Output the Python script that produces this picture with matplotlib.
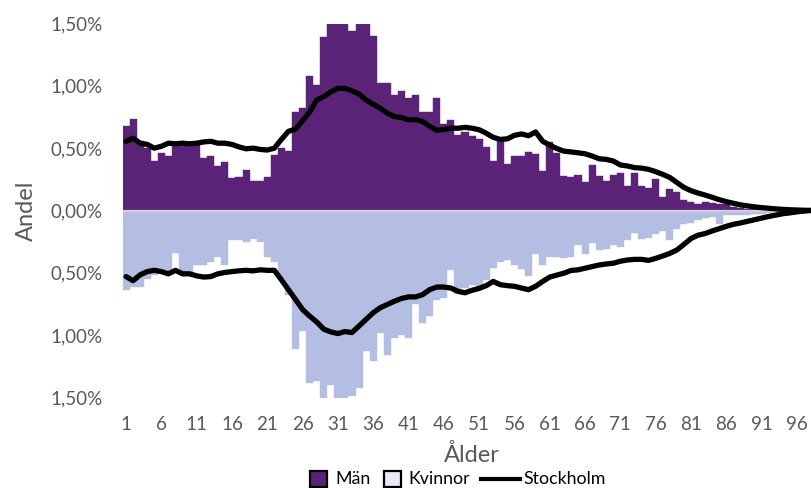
import matplotlib
matplotlib.use("Agg")
import matplotlib.pyplot as plt
from matplotlib.patches import Rectangle
from matplotlib.lines import Line2D
from matplotlib.ticker import FuncFormatter

plt.rcParams['font.family'] = ['Lato', 'DejaVu Sans']

ages = list(range(1, 101))

man = [0.675, 0.736, 0.56, 0.50, 0.40, 0.46, 0.44, 0.53, 0.52, 0.52,
       0.53, 0.42, 0.44, 0.36, 0.39, 0.26, 0.265, 0.325, 0.24, 0.24,
       0.27, 0.445, 0.50, 0.48, 0.79, 0.82, 1.08, 1.005, 1.39, 1.52,
       1.51, 1.52, 1.44, 1.52, 1.52, 1.40, 1.02, 1.02, 0.926, 0.957,
       0.905, 0.926, 0.794, 0.79, 0.905, 0.693, 0.727, 0.608, 0.627, 0.595,
       0.577, 0.508, 0.40, 0.555, 0.376, 0.434, 0.434, 0.468, 0.455, 0.317,
       0.548, 0.463, 0.278, 0.265, 0.283, 0.225, 0.365, 0.278, 0.233, 0.283,
       0.299, 0.193, 0.299, 0.193, 0.18, 0.251, 0.106, 0.17, 0.145, 0.085,
       0.066, 0.053, 0.066, 0.058, 0.053, 0.053, 0.03, 0.02, 0.015, 0.01,
       0.008, 0.006, 0.005, 0.004, 0.003, 0.002, 0.002, 0.001, 0.001, 0.001]

kvinnor = [0.64, 0.61, 0.61, 0.55, 0.52, 0.50, 0.52, 0.344, 0.52, 0.52,
           0.44, 0.44, 0.41, 0.375, 0.44, 0.238, 0.238, 0.25, 0.225, 0.25,
           0.37, 0.41, 0.55, 0.68, 1.11, 0.966, 1.38, 1.37, 1.52, 1.40,
           1.52, 1.52, 1.49, 1.42, 1.125, 1.21, 0.984, 1.16, 1.02, 1.00,
           1.02, 0.746, 0.90, 0.85, 0.714, 0.70, 0.48, 0.67, 0.62, 0.595,
           0.61, 0.556, 0.458, 0.41, 0.40, 0.437, 0.47, 0.524, 0.349, 0.44,
           0.37, 0.375, 0.38, 0.37, 0.278, 0.35, 0.26, 0.317, 0.31, 0.278,
           0.29, 0.238, 0.18, 0.225, 0.22, 0.185, 0.166, 0.24, 0.146, 0.11,
           0.10, 0.08, 0.063, 0.05, 0.11, 0.04, 0.04, 0.04, 0.035, 0.03,
           0.025, 0.02, 0.015, 0.01, 0.008, 0.006, 0.004, 0.003, 0.002, 0.001]

sthlm_man = [0.555, 0.58, 0.54, 0.53, 0.50, 0.515, 0.54, 0.535, 0.54, 0.535,
             0.54, 0.55, 0.555, 0.54, 0.54, 0.53, 0.51, 0.495, 0.50, 0.49,
             0.485, 0.50, 0.57, 0.635, 0.653, 0.72, 0.79, 0.886, 0.913, 0.952,
             0.98, 0.98, 0.96, 0.934, 0.886, 0.852, 0.82, 0.78, 0.754, 0.746,
             0.727, 0.73, 0.714, 0.675, 0.643, 0.65, 0.66, 0.66, 0.667, 0.66,
             0.648, 0.62, 0.587, 0.57, 0.575, 0.603, 0.614, 0.60, 0.63, 0.555,
             0.524, 0.497, 0.476, 0.47, 0.463, 0.455, 0.437, 0.415, 0.41, 0.397,
             0.365, 0.357, 0.344, 0.34, 0.33, 0.312, 0.29, 0.265, 0.225, 0.185,
             0.159, 0.14, 0.124, 0.106, 0.087, 0.071, 0.058, 0.045, 0.037, 0.029,
             0.023, 0.018, 0.013, 0.009, 0.006, 0.004, 0.002, 0.001, 0.0, 0.0]

sthlm_kvinnor = [0.53, 0.563, 0.516, 0.49, 0.48, 0.49, 0.508, 0.48, 0.508, 0.508,
                 0.524, 0.534, 0.53, 0.508, 0.497, 0.49, 0.484, 0.48, 0.484, 0.476,
                 0.48, 0.48, 0.556, 0.635, 0.714, 0.794, 0.847, 0.894, 0.952, 0.974,
                 0.987, 0.971, 0.979, 0.926, 0.873, 0.82, 0.78, 0.754, 0.728, 0.706,
                 0.693, 0.693, 0.675, 0.635, 0.614, 0.614, 0.622, 0.648, 0.66, 0.64,
                 0.625, 0.603, 0.569, 0.595, 0.603, 0.608, 0.622, 0.635, 0.608, 0.569,
                 0.534, 0.518, 0.503, 0.481, 0.476, 0.463, 0.45, 0.437, 0.429, 0.423,
                 0.407, 0.397, 0.392, 0.392, 0.40, 0.384, 0.365, 0.344, 0.317, 0.272,
                 0.225, 0.198, 0.185, 0.164, 0.146, 0.127, 0.111, 0.10, 0.087, 0.074,
                 0.061, 0.048, 0.037, 0.026, 0.019, 0.011, 0.005, 0.0, 0.0, 0.0]

xtick_labels = [1, 6, 11, 16, 21, 26, 31, 36, 41, 46, 51, 56, 61, 66, 71, 76, 81, 86, 91, 96]
yticks = [-1.5, -1.0, -0.5, 0.0, 0.5, 1.0, 1.5]
legend_labels = ['Män', 'Kvinnor', 'Stockholm']

PURPLE = '#5B2378'
LAVENDER = '#B4BDE2'
LEG_LIGHT = '#EEE7F7'
GREY_TXT = '#595959'

W, H = 811, 488
fig = plt.figure(figsize=(W / 100, H / 100), dpi=100)
ax = fig.add_axes([122.5 / W, 1 - 397.5 / H, (W - 122.5) / W, (397.5 - 23.5) / H])

ax.bar(ages, man, width=1.0, color=PURPLE, edgecolor=PURPLE, linewidth=0.3, zorder=2)
ax.bar(ages, [-v for v in kvinnor], width=1.0, color=LAVENDER, edgecolor=LAVENDER, linewidth=0.3, zorder=2)
ax.axhline(0, color='#D3CFDA', lw=1.6, zorder=3)
ax.plot(ages, sthlm_man, color='black', lw=3.8, solid_capstyle='round', solid_joinstyle='round', zorder=4)
ax.plot(ages, [-v for v in sthlm_kvinnor], color='black', lw=3.8, solid_capstyle='round', solid_joinstyle='round', zorder=4)

ax.set_xlim(0.5, 98.0)
ax.set_ylim(-1.5, 1.5)
ax.set_yticks(yticks)
ax.yaxis.set_major_formatter(FuncFormatter(lambda v, p: f"{abs(v):.2f}%".replace('.', ',')))
ax.set_xticks(xtick_labels)
ax.set_xticklabels([str(t) for t in xtick_labels])

for s in ax.spines.values():
    s.set_visible(False)
ax.tick_params(axis='both', length=0, colors=GREY_TXT, labelsize=13.5)
ax.tick_params(axis='y', pad=14.5)
ax.tick_params(axis='x', pad=13)

fig.text(472 / W, 1 - 462 / H, 'Ålder', fontsize=17, color=GREY_TXT, ha='center', va='baseline')
fig.text(26 / W, 1 - 211 / H, 'Andel', fontsize=17, color=GREY_TXT, ha='center', va='center', rotation=90)

# legend (drawn manually to match the reference layout)
def fx(px):
    return px / W

def fy(py):
    return 1 - py / H

leg_y = 479
fig.add_artist(Rectangle((fx(310), fy(487)), 17 / W, 16 / H, transform=fig.transFigure,
                         facecolor=PURPLE, edgecolor='black', linewidth=1.6))
fig.text(fx(335), fy(leg_y), legend_labels[0], fontsize=12.8, color='black', ha='left', va='center')
fig.add_artist(Rectangle((fx(384), fy(487)), 17 / W, 16 / H, transform=fig.transFigure,
                         facecolor=LEG_LIGHT, edgecolor='black', linewidth=1.6))
fig.text(fx(408), fy(leg_y), legend_labels[1], fontsize=12.8, color='black', ha='left', va='center')
fig.add_artist(Line2D([fx(481), fx(520)], [fy(leg_y), fy(leg_y)], transform=fig.transFigure,
                      color='black', lw=3))
fig.text(fx(523), fy(leg_y), legend_labels[2], fontsize=12.8, color='black', ha='left', va='center')

fig.savefig('out.png', dpi=100)
